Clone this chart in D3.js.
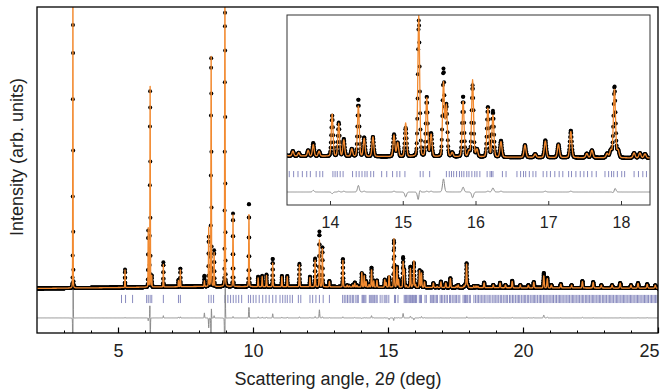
<!DOCTYPE html>
<html>
<head>
<meta charset="utf-8">
<script src="https://cdn.jsdelivr.net/npm/d3@7"></script>
<style>
	body { margin: 0; background: #fff; }
	svg { display: block; font-family: "Liberation Sans", Arial, sans-serif; }
</style>
</head>
<body>
<svg id="chart" width="660" height="389"></svg>
<script>
var peaks = [
	[3.33, 950, 1150, 0.003],
	[5.26, 64, 62], [6.12, 200, 210], [6.19, 700, 740, -0.0012], [6.25, 40, 40],
	[6.68, 88, 80], [7.24, 25, 22], [7.31, 66, 62], [8.20, 38, 20],
	[8.36, 175, 210], [8.45, 820, 840, 0.0008], [8.56, 128, 120],
	[8.96, 980, 1100, 0.003], [9.26, 260, 255], [9.85, 300, 262],
	[10.19, 36, 32], [10.34, 39, 36], [10.50, 43, 40], [10.73, 100, 85],
	[11.07, 39, 36], [11.27, 39, 36], [11.72, 82, 78], [12.11, 36, 34],
	[12.30, 100, 95], [12.46, 196, 167], [12.57, 142, 138], [12.83, 21, 20],
	[13.33, 100, 96],
	[13.49, 6, 6], [13.57, 4, 4], [13.70, 7, 7], [13.77, 16, 14], [13.85, 6, 6],
	[14.03, 50, 52], [14.12, 41, 40], [14.19, 21, 20], [14.30, 9, 9],
	[14.39, 70, 62], [14.47, 23, 22], [14.59, 24, 24], [14.88, 27, 26],
	[14.93, 17, 17], [15.04, 35, 41], [15.22, 166, 172, 0.0006], [15.33, 73, 72],
	[15.39, 28, 27], [15.56, 106, 90], [15.60, 62, 62], [15.68, 5, 5],
	[15.83, 74, 68], [15.91, 7, 7], [15.96, 87, 94], [16.02, 9, 9],
	[16.17, 61, 60], [16.24, 56, 51], [16.35, 20, 19], [16.68, 15, 15],
	[16.82, 4, 4], [16.96, 21, 20], [17.14, 16, 16], [17.31, 33, 32],
	[17.53, 5, 5], [17.60, 9, 9], [17.81, 5, 5], [17.86, 9, 9],
	[17.91, 87, 84, 0.0006], [17.96, 9, 9], [18.18, 6, 6], [18.26, 6, 6], [18.33, 5, 5],
	[18.56, 18, 17], [18.90, 10, 10], [19.15, 18, 17], [19.35, 10, 10],
	[19.60, 25, 23], [19.90, 10, 10], [20.20, 10, 9], [20.40, 21, 20],
	[20.77, 53, 43], [20.90, 36, 33], [21.05, 10, 10], [21.40, 14, 13],
	[21.80, 10, 10], [22.20, 25, 23], [22.60, 21, 20], [22.90, 10, 10],
	[23.30, 10, 10], [23.60, 18, 17], [24.00, 10, 10], [24.26, 18, 17],
	[24.60, 14, 13], [24.90, 10, 10]
];

// reflection positions (tick marks)
var reflections = [
	5.13, 5.28, 5.54, 6.06, 6.12, 6.19, 6.25, 6.68, 7.24, 7.31,
	8.36, 8.45, 8.54, 8.96, 9.07, 9.17, 9.27, 9.37, 9.47, 9.58,
	9.83, 9.91, 10.01, 10.11, 10.23, 10.36, 10.48, 10.60, 10.73, 10.85,
	11.00, 11.10, 11.19, 11.27, 11.37, 11.46, 11.68, 11.77, 12.11, 12.21,
	12.33, 12.46, 12.60, 12.83, 13.32, 13.38, 13.44,
	13.50, 13.56, 13.62, 13.68, 13.73, 13.81, 13.86, 13.90, 14.04, 14.07,
	14.10, 14.14, 14.18, 14.31, 14.36, 14.40, 14.44, 14.48, 14.51, 14.56,
	14.60, 14.71, 14.78, 14.86, 14.92, 14.96, 15.03, 15.24, 15.28, 15.37,
	15.60, 15.64, 15.67, 15.70, 15.74, 15.78, 15.81, 15.84, 15.88, 15.91,
	15.95, 15.99, 16.02, 16.06, 16.16, 16.20, 16.22, 16.24, 16.37, 16.42,
	16.57, 16.62, 16.66, 16.69, 16.74, 16.79, 16.83, 16.93, 16.98, 17.03,
	17.09, 17.15, 17.20, 17.28, 17.32, 17.38, 17.44, 17.49, 17.54, 17.60,
	17.66, 17.78, 17.83, 17.87, 17.90, 17.95, 18.01, 18.05, 18.18, 18.24,
	18.30, 18.35, 18.41, 18.47, 18.52, 18.58, 18.63, 18.70, 18.75, 18.81,
	18.88, 18.93, 18.99, 19.04, 19.10, 19.16, 19.21, 19.27, 19.33, 19.38,
	19.43, 19.50, 19.55, 19.61, 19.66, 19.72, 19.78, 19.83, 19.88, 19.94,
	20.00, 20.05, 20.10, 20.16, 20.21, 20.27, 20.33, 20.38, 20.43, 20.48,
	20.54, 20.60, 20.65, 20.70, 20.76, 20.81, 20.86, 20.92, 20.97, 21.03,
	21.08, 21.13, 21.19, 21.24, 21.30, 21.35, 21.40, 21.45, 21.51, 21.56,
	21.62, 21.67, 21.72, 21.78, 21.83, 21.88, 21.93, 21.99, 22.04, 22.09,
	22.15, 22.20, 22.25, 22.31, 22.36, 22.41, 22.46, 22.52, 22.57, 22.62,
	22.67, 22.73, 22.78, 22.83, 22.88, 22.94, 22.99, 23.04, 23.09, 23.15,
	23.20, 23.25, 23.30, 23.35, 23.41, 23.46, 23.51, 23.56, 23.62, 23.67,
	23.72, 23.77, 23.82, 23.88, 23.93, 23.98, 24.03, 24.08, 24.14, 24.19,
	24.24, 24.29, 24.34, 24.40, 24.45, 24.50, 24.55, 24.60, 24.65, 24.71,
	24.76, 24.81, 24.86, 24.91, 24.96
];

// background control points
var bgAngles = [2, 4, 8, 12, 16, 20, 25];
var bgCounts = [2, 4, 9, 8, 6, 4, 3];

var mainTicks = [5, 10, 15, 20, 25];
var mainMinorTicks = d3.range(3, 25);
var insetTicks = [14, 15, 16, 17, 18];

var stepSize = 0.004;
var ORANGE = '#f28a30',
	TICKCOL = '#7c7eb8',
	DIFFCOL = '#8a8a8a';

var svg = d3.select('#chart');

var xMain = d3.scaleLinear().domain([2, 25]).range([37, 658]);
var yMain = d3.scaleLinear().domain([0, 1000]).range([289, 8]);
var xInset = d3.scaleLinear().domain([14, 18]).range([330, 621]);
var yInset = d3.scaleLinear().domain([0, 180]).range([162, 14.4]);

// offsets of tick rows and difference curve (in counts)
var mainOff = { tickTop: -21, tickBot: -50, diff: -103 };
var insetOff = { tickTop: -11, tickBot: -18.5, diff: -36.6 };

var bg = d3.scaleLinear().domain(bgAngles).range(bgCounts);

function fwhm(tt) { return 0.010 + 0.0013 * tt; }

// pseudo-Voigt sum over the peak list
function profile(tt, obs) {
	var sum = bg(tt);
	peaks.forEach(function (p) {
		var c = obs ? p[0] + (p[3] || 0) : p[0];
		var h = obs ? p[1] : p[2];
		var d = (tt - c) / fwhm(c);
		if (Math.abs(d) > 60) return;
		sum += h * (0.85 * Math.exp(-4 * Math.LN2 * d * d) + 0.15 / (1 + 4 * d * d));
	});
	return sum;
}

var pattern = d3.range(2, 25.0001, stepSize).map(function (tt) {
	var o = profile(tt, true), c = profile(tt, false);
	return { tt: tt, obs: o, calc: c, diff: o - c };
});

function drawPattern(g, data, x, y, off, clipId) {
	var body = g.append('g').attr('clip-path', 'url(#' + clipId + ')');

	body.append('g').selectAll('line')
		.data(reflections.filter(function (r) { return r >= x.domain()[0] - 1 && r <= x.domain()[1] + 1; }))
		.enter().append('line')
		.attr('x1', function (d) { return x(d); })
		.attr('x2', function (d) { return x(d); })
		.attr('y1', y(off.tickTop))
		.attr('y2', y(off.tickBot))
		.attr('stroke', TICKCOL)
		.attr('stroke-width', 0.9);

	body.append('path')
		.datum(data)
		.attr('fill', 'none')
		.attr('stroke', DIFFCOL)
		.attr('stroke-width', 1)
		.attr('d', d3.line()
			.x(function (d) { return x(d.tt); })
			.y(function (d) { return y(d.diff + off.diff); }));

	body.append('g').selectAll('circle')
		.data(data)
		.enter().append('circle')
		.attr('cx', function (d) { return x(d.tt); })
		.attr('cy', function (d) { return y(d.obs); })
		.attr('r', 2)
		.attr('fill', '#000');

	body.append('path')
		.datum(data)
		.attr('fill', 'none')
		.attr('stroke', ORANGE)
		.attr('stroke-width', 1.3)
		.attr('stroke-linejoin', 'round')
		.attr('d', d3.line()
			.x(function (d) { return x(d.tt); })
			.y(function (d) { return y(d.calc); }));
}

var defs = svg.append('defs');
defs.append('clipPath').attr('id', 'clipMain').append('rect')
	.attr('x', 37).attr('y', 7).attr('width', 621).attr('height', 326);
defs.append('clipPath').attr('id', 'clipInset').append('rect')
	.attr('x', 287).attr('y', 15).attr('width', 363).attr('height', 190);

// main panel
var main = svg.append('g');
drawPattern(main, pattern, xMain, yMain, mainOff, 'clipMain');

main.append('rect')
	.attr('x', 37).attr('y', 7).attr('width', 621).attr('height', 326)
	.attr('fill', 'none').attr('stroke', '#000').attr('stroke-width', 1.3);

var minorAxis = main.append('g')
	.attr('transform', 'translate(0,333)')
	.call(d3.axisBottom(xMain).tickValues(mainMinorTicks).tickSize(-2.5).tickFormat(''));
minorAxis.select('.domain').remove();

var majorAxis = main.append('g')
	.attr('transform', 'translate(0,333)')
	.call(d3.axisBottom(xMain).tickValues(mainTicks).tickSize(-5.5).tickPadding(11).tickFormat(d3.format('d')));
majorAxis.select('.domain').remove();
majorAxis.selectAll('line').attr('stroke-width', 1.2);
majorAxis.selectAll('text').attr('font-size', 18).attr('fill', '#222')
	.attr('font-family', '"Liberation Sans", Arial, sans-serif');
majorAxis.selectAll('.tick').filter(function (d) { return d === 25; })
	.select('text').attr('text-anchor', 'end').attr('x', 1);

// axis titles
var xTitle = svg.append('text')
	.attr('x', 338).attr('y', 385)
	.attr('text-anchor', 'middle')
	.attr('font-size', 18).attr('fill', '#222');
xTitle.append('tspan').text('Scattering angle, 2');
xTitle.append('tspan').attr('font-style', 'italic').text('θ');
xTitle.append('tspan').text(' (deg)');

svg.append('text')
	.attr('transform', 'translate(23,157) rotate(-90)')
	.attr('text-anchor', 'middle')
	.attr('font-size', 18).attr('fill', '#222')
	.text('Intensity (arb. units)');

// inset
var inset = svg.append('g');
inset.append('rect')
	.attr('x', 287).attr('y', 15).attr('width', 363).attr('height', 190)
	.attr('fill', '#fff');

drawPattern(inset, pattern.filter(function (d) { return d.tt >= 13.3 && d.tt <= 18.5; }),
	xInset, yInset, insetOff, 'clipInset');

inset.append('rect')
	.attr('x', 287).attr('y', 15).attr('width', 363).attr('height', 190)
	.attr('fill', 'none').attr('stroke', '#333').attr('stroke-width', 1);

var insetAxis = inset.append('g')
	.attr('transform', 'translate(0,205)')
	.call(d3.axisBottom(xInset).tickValues(insetTicks).tickSize(-4).tickPadding(12).tickFormat(d3.format('d')));
insetAxis.select('.domain').remove();
insetAxis.selectAll('line').attr('stroke', '#333');
insetAxis.selectAll('text').attr('font-size', 16).attr('fill', '#222')
	.attr('font-family', '"Liberation Sans", Arial, sans-serif');
</script>
</body>
</html>
